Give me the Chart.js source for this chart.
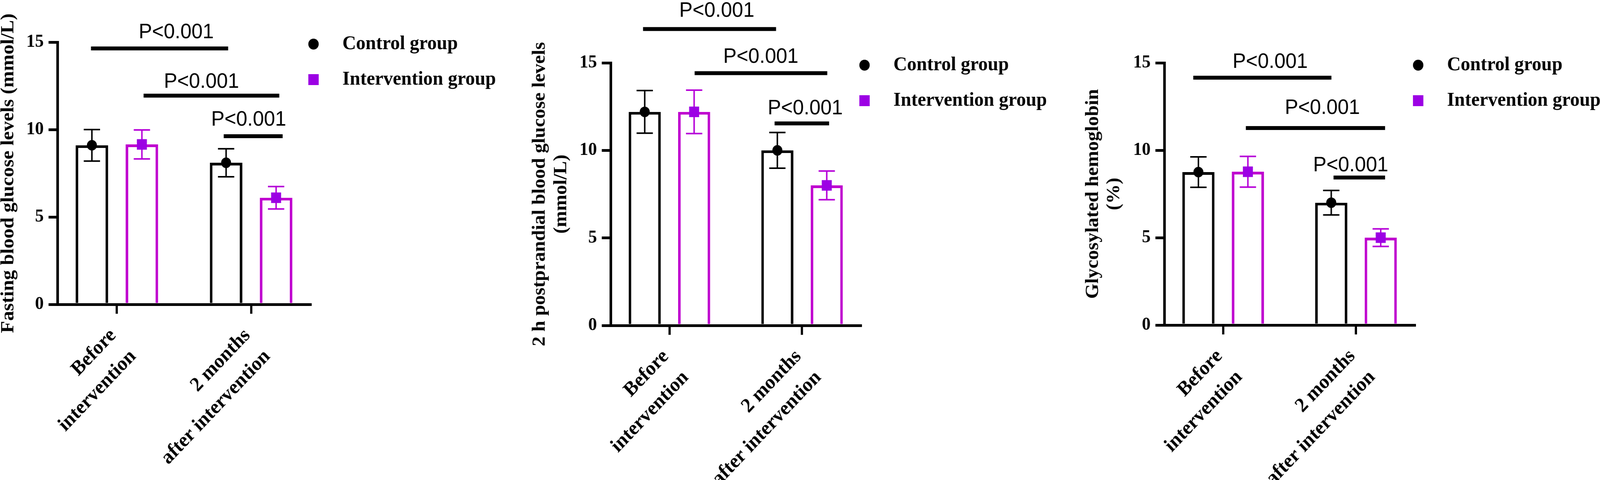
<!DOCTYPE html>
<html>
<head>
<meta charset="utf-8">
<script src="https://cdn.jsdelivr.net/npm/chart.js@4.4.1/dist/chart.umd.min.js"></script>
<style>
  html, body { margin: 0; padding: 0; background: #ffffff; overflow: hidden; }
  canvas { position: absolute; top: 0; }
</style>
</head>
<body>
<canvas id="c1"></canvas>
<canvas id="c2"></canvas>
<canvas id="c3"></canvas>
<script>
// ---------------- data ----------------
const categories = [['Before', 'intervention'], ['2 months', 'after intervention']];
const groupNames = ['Control group', 'Intervention group'];
const yTickValues = [0, 5, 10, 15];
const pText = 'P<0.001';

const fbgControlMean = [9.1, 8.1];
const fbgControlSD = [0.9, 0.8];
const fbgInterventionMean = [9.15, 6.1];
const fbgInterventionSD = [0.83, 0.64];

const pbgControlMean = [12.2, 10.0];
const pbgControlSD = [1.22, 1.02];
const pbgInterventionMean = [12.2, 8.0];
const pbgInterventionSD = [1.24, 0.82];

const hbControlMean = [8.75, 7.0];
const hbControlSD = [0.87, 0.7];
const hbInterventionMean = [8.77, 5.0];
const hbInterventionSD = [0.88, 0.5];

// ---------------- styles ----------------
const BLACK = '#000000';
const PURPLE_BAR = '#BF00CF';
const PURPLE_ERR = '#B600D8';
const PURPLE_MARK = '#9C00E4';
const SERIF = "'Liberation Serif', 'Times New Roman', serif";
const SANS = "'Liberation Sans', Arial, sans-serif";
const EDGE = 0.443;          // category-axis margin (fraction of category spacing)
const PAGE_W = 4318, CANVAS_H = 1230;
const LEGEND_PAD = 40;
const LEGEND_BOX = 105;
// map the 4318x1230 figure frame onto whatever viewport we get
const SX = (window.innerWidth || PAGE_W) / PAGE_W;
const SY = (window.innerHeight || CANVAS_H) / CANVAS_H;

Chart.defaults.font.family = SERIF;

function markerImage(kind, color, size) {
  const c = document.createElement('canvas');
  c.width = size + 2;
  c.height = size + 2;
  const g = c.getContext('2d');
  g.fillStyle = color;
  const cx = c.width / 2, cy = c.height / 2;
  if (kind === 'circle') { g.beginPath(); g.arc(cx, cy, size / 2, 0, Math.PI * 2); g.fill(); }
  else { g.fillRect(cx - size / 2, cy - size / 2, size, size); }
  return c;
}
const legendImages = [markerImage('circle', BLACK, 28), markerImage('square', PURPLE_MARK, 28)];

const panels = [
  {
    id: 'c1', left: 0, width: 1500,
    title: 'Fasting blood glucose levels (mmol/L)', titleSize: 51, titleLH: 0.9, titlePad: 0,
    plotLeft: 155, plotRight: 838, plotTop: 108, plotBottom: 780, legendTitlePad: 37.5, legendMarkerX: 846,
    series: [
      { mean: fbgControlMean, sd: fbgControlSD },
      { mean: fbgInterventionMean, sd: fbgInterventionSD }
    ],
    brackets: [
      { from: -0.193, to: 0.829, at: 14.64, textX: 0.442, textY: 15.22 },
      { from: 0.199, to: 1.210, at: 11.94, textX: 0.630, textY: 12.39 },
      { from: 0.796, to: 1.235, at: 9.62, textX: 0.982, textY: 10.22 }
    ]
  },
  {
    id: 'c2', left: 1400, width: 1560,
    title: ['2 h postprandial blood glucose levels', '(mmol/L)'], titleSize: 50, titleLH: 1.17, titlePad: 27.75,
    plotLeft: 248, plotRight: 923, plotTop: 161, plotBottom: 834, legendTitlePad: 91.5, legendMarkerX: 933,
    series: [
      { mean: pbgControlMean, sd: pbgControlSD },
      { mean: pbgInterventionMean, sd: pbgInterventionSD }
    ],
    brackets: [
      { from: -0.199, to: 0.804, at: 16.93, textX: 0.357, textY: 17.62 },
      { from: 0.190, to: 1.190, at: 14.41, textX: 0.689, textY: 15.01 },
      { from: 0.793, to: 1.204, at: 11.54, textX: 1.024, textY: 12.05 }
    ]
  },
  {
    id: 'c3', left: 2900, width: 1580,
    title: ['Glycosylated hemoglobin', '(%)'], titleSize: 50, titleLH: 1.14, titlePad: 21.5,
    plotLeft: 242, plotRight: 918, plotTop: 161, plotBottom: 833, legendTitlePad: 91.5, legendMarkerX: 927,
    series: [
      { mean: hbControlMean, sd: hbControlSD },
      { mean: hbInterventionMean, sd: hbInterventionSD }
    ],
    brackets: [
      { from: -0.225, to: 0.815, at: 14.15, textX: 0.354, textY: 14.71 },
      { from: 0.171, to: 1.219, at: 11.27, textX: 0.747, textY: 12.08 },
      { from: 0.831, to: 1.219, at: 8.44, textX: 0.960, textY: 8.79 }
    ]
  }
];

const seriesStyle = [
  { border: BLACK, err: BLACK, marker: 'circle', markerColor: BLACK },
  { border: PURPLE_BAR, err: PURPLE_ERR, marker: 'square', markerColor: PURPLE_MARK }
];

function errorBarPlugin(panel) {
  return {
    id: 'errorBars',
    afterDatasetsDraw(chart) {
      const ctx = chart.ctx, ys = chart.scales.y;
      panel.series.forEach((s, di) => {
        const st = seriesStyle[di];
        const meta = chart.getDatasetMeta(di);
        meta.data.forEach((bar, i) => {
          const m = s.mean[i], sd = s.sd[i];
          const yt = ys.getPixelForValue(m + sd);
          const yb = ys.getPixelForValue(m - sd);
          const ym = ys.getPixelForValue(m);
          ctx.save();
          ctx.strokeStyle = st.err;
          ctx.lineWidth = 4;
          ctx.beginPath();
          ctx.moveTo(bar.x, yt); ctx.lineTo(bar.x, yb);
          ctx.moveTo(bar.x - 22, yt); ctx.lineTo(bar.x + 22, yt);
          ctx.moveTo(bar.x - 22, yb); ctx.lineTo(bar.x + 22, yb);
          ctx.stroke();
          ctx.fillStyle = st.markerColor;
          if (st.marker === 'circle') {
            ctx.beginPath(); ctx.arc(bar.x, ym, 13.5, 0, Math.PI * 2); ctx.fill();
          } else {
            ctx.fillRect(bar.x - 13.5, ym - 13.5, 27, 27);
          }
          ctx.restore();
        });
      });
    }
  };
}

function bracketPlugin(panel) {
  return {
    id: 'pBrackets',
    afterDraw(chart) {
      const ctx = chart.ctx, xs = chart.scales.x, ys = chart.scales.y;
      ctx.save();
      ctx.fillStyle = BLACK;
      ctx.font = '54px ' + SANS;
      ctx.textAlign = 'center';
      ctx.textBaseline = 'alphabetic';
      panel.brackets.forEach(b => {
        const x1 = xs.getPixelForValue(b.from), x2 = xs.getPixelForValue(b.to);
        const y = ys.getPixelForValue(b.at);
        ctx.fillRect(x1, y - 5, x2 - x1, 10);
        ctx.fillText(pText, xs.getPixelForValue(b.textX), ys.getPixelForValue(b.textY));
      });
      ctx.restore();
    }
  };
}

function legendPlacePlugin(panel) {
  return {
    id: 'legendPlace',
    afterLayout(chart) {
      if (chart.legend) {
        chart.legend.left = panel.legendMarkerX - LEGEND_PAD - LEGEND_BOX / 2;
      }
    }
  };
}

function makePanel(panel) {
  const canvas = document.getElementById(panel.id);
  canvas.width = panel.width;
  canvas.height = CANVAS_H;
  canvas.style.left = (panel.left * SX) + 'px';
  canvas.style.width = (panel.width * SX) + 'px';
  canvas.style.height = (CANVAS_H * SY) + 'px';

  const datasets = panel.series.map((s, i) => ({
    label: groupNames[i],
    data: s.mean,
    backgroundColor: '#ffffff',
    borderColor: seriesStyle[i].border,
    borderWidth: 7,
    borderSkipped: 'start',
    categoryPercentage: 0.745,
    barPercentage: 0.65
  }));

  const chart = new Chart(canvas.getContext('2d'), {
    type: 'bar',
    data: { labels: categories, datasets },
    options: {
      responsive: false,
      animation: false,
      devicePixelRatio: 1,
      events: [],
      layout: { padding: { left: 0, right: 0, top: 0, bottom: 0 } },
      plugins: {
        tooltip: { enabled: false },
        title: {
          display: true, text: ' ',
          font: { size: 10, lineHeight: 1 },
          padding: { top: panel.plotTop - 10, bottom: 0 }
        },
        legend: {
          display: true,
          position: 'right',
          align: 'start',
          maxWidth: 3000,
          title: { display: true, text: ' ', font: { size: 10, lineHeight: 1 }, padding: { top: panel.legendTitlePad, bottom: 0 } },
          labels: {
            usePointStyle: true,
            pointStyleWidth: LEGEND_BOX,
            padding: LEGEND_PAD,
            color: BLACK,
            font: { family: SERIF, weight: 'bold', size: 51 },
            generateLabels: (ch) => ch.data.datasets.map((ds, i) => ({
              text: ds.label,
              fontColor: BLACK,
              fillStyle: seriesStyle[i].markerColor,
              strokeStyle: seriesStyle[i].markerColor,
              lineWidth: 0,
              pointStyle: legendImages[i],
              hidden: false,
              datasetIndex: i
            }))
          }
        }
      },
      scales: {
        x: {
          type: 'category',
          offset: true,
          z: 1,
          border: { display: true, color: BLACK, width: 7 },
          grid: {
            display: true, offset: false, drawOnChartArea: false, drawTicks: true,
            tickLength: 24, tickWidth: 6, tickColor: BLACK, color: BLACK, lineWidth: 6
          },
          ticks: {
            color: BLACK,
            font: { family: SERIF, weight: 'bold', size: 52, lineHeight: 1.46 },
            minRotation: 45, maxRotation: 45, autoSkip: false,
            padding: 21, labelOffset: -10
          },
          afterBuildTicks: (s) => { s._startValue = -EDGE; s._valueRange = 1 + 2 * EDGE; },
          afterFit: (s) => { s.height = CANVAS_H - panel.plotBottom; }
        },
        y: {
          min: 0, max: 15,
          z: 1,
          border: { display: true, color: BLACK, width: 7 },
          grid: {
            display: true, drawOnChartArea: false, drawTicks: true,
            tickLength: 24, tickWidth: 7, tickColor: BLACK, color: BLACK, lineWidth: 7
          },
          ticks: {
            color: BLACK,
            font: { family: SERIF, weight: 'bold', size: 47 },
            padding: 13
          },
          afterBuildTicks: (s) => { s.ticks = yTickValues.map(v => ({ value: v })); },
          title: {
            display: true,
            text: panel.title,
            color: BLACK,
            font: { family: SERIF, weight: 'bold', size: panel.titleSize, lineHeight: panel.titleLH },
            padding: { top: panel.titlePad, bottom: 0 }
          },
          afterFit: (s) => { s.width = panel.plotLeft; }
        }
      }
    },
    plugins: [errorBarPlugin(panel), bracketPlugin(panel), legendPlacePlugin(panel)]
  });

  const diff = chart.chartArea.right - panel.plotRight;
  if (Math.abs(diff) > 0.5) {
    chart.options.layout.padding = { left: 0, top: 0, bottom: 0, right: Math.max(0, diff) };
    chart.update('none');
  }
  return chart;
}

panels.forEach(makePanel);
</script>
</body>
</html>
